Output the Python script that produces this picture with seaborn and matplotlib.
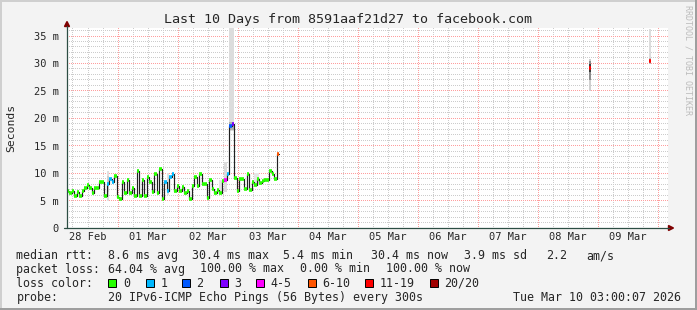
import numpy as np
import pandas as pd
import matplotlib
matplotlib.use("Agg")
import matplotlib.pyplot as plt
import seaborn as sns
from matplotlib.patches import Rectangle, Polygon
from matplotlib.lines import Line2D

# ---------------- data ----------------
start_day = -0.855          # days relative to 01 Mar 00:00
step_day = 1 / 24           # one hour per consolidated step
median_ms = [6.8, 6.3, 6.8, 5.9, 6.5, 5.9, 6.8, 7.3, 7.9, 7.3,
             6.3, 7.3, 7.3, 8.3, 8.3, 5.8, 8.0, 8.9, 8.3, 9.4,
             5.7, 5.2, 8.3, 6.3, 8.8, 6.3, 7.3, 5.9, 10.3, 5.9,
             8.8, 5.9, 9.3, 8.3, 6.6, 9.8, 6.3, 10.7, 5.2, 8.3,
             6.8, 9.3, 9.8, 6.8, 7.6, 6.8, 7.4, 6.3, 6.8, 5.2,
             7.6, 9.3, 7.6, 9.8, 8.0, 8.0, 5.4, 8.8, 7.1, 6.3,
             7.0, 6.3, 8.5, 8.8, 9.8, 18.6, 18.9, 9.1, 6.8, 8.9,
             8.9, 7.1, 9.8, 7.0, 8.3, 7.9, 8.9, 8.2, 8.5, 8.7,
             8.7, 10.3, 9.8, 8.9, 13.4]
loss_level = [0, 0, 0, 0, 0, 0, 0, 0, 0, 0,
              0, 0, 0, 0, 0, 0, 1, 1, 1, 0,
              0, 0, 0, 0, 0, 0, 0, 0, 0, 0,
              0, 0, 0, 0, 0, 0, 0, 0, 0, 1,
              1, 1, 1, 0, 0, 0, 0, 0, 0, 0,
              0, 0, 0, 0, 0, 0, 0, 0, 0, 0,
              0, 0, 0, 4, 1, 2, 3, 0, 0, 0,
              0, 0, 0, 0, 0, 0, 0, 0, 0, 0,
              0, 0, 0, 0, 5]

# smoke segments (index ranges into the series)
smoke_from = [16, 16, 40, 61, 63, 65, 65, 75]
smoke_to = [17, 17, 41, 62, 64, 67, 67, 77]
smoke_lo = [5.0, 6.5, 6.0, 6.6, 6.6, 17.6, 17.9, 7.8]
smoke_hi = [10.4, 9.4, 10.0, 8.8, 12.1, 36.5, 19.3, 10.0]
smoke_tone = ['#e0e0e0', '#cdcdcd', '#e0e0e0', '#e4e4e4', '#dcdcdc', '#dcdcdc', '#b0b0b0', '#e6e6e6']

# two isolated late samples
late_day = [7.85, 8.85]
late_ms = [29.2, 30.4]
late_loss = [6, 6]
late_smoke_day = [7.85, 7.85, 7.85, 8.85, 8.85]
late_smoke_lo = [25.0, 27.0, 28.4, 29.9, 29.9]
late_smoke_hi = [30.8, 30.4, 29.9, 36.3, 31.0]
late_smoke_tone = ['#cfcfcf', '#8c8c8c', '#3c3c3c', '#dcdcdc', '#bdbdbd']

loss_labels = ['0', '1', '2', '3', '4-5', '6-10', '11-19', '20/20']
loss_colors = ['#26ff00', '#00b8ff', '#0059ff', '#7e00ff', '#ff00ff', '#ff5500', '#ff0000', '#a10000']

day_labels = ['28 Feb', '01 Mar', '02 Mar', '03 Mar', '04 Mar', '05 Mar',
              '06 Mar', '07 Mar', '08 Mar', '09 Mar']
y_ticks = [0, 5, 10, 15, 20, 25, 30, 35]
y_labels = ['0', '5 m', '10 m', '15 m', '20 m', '25 m', '30 m', '35 m']

rtt_stats = ['8.6 ms avg', '30.4 ms max', '5.4 ms min', '30.4 ms now', '3.9 ms sd', '2.2', 'am/s']
loss_stats = ['64.04 % avg', '100.00 % max', '0.00 % min', '100.00 % now']
probe_text = '20 IPv6-ICMP Echo Pings (56 Bytes) every 300s'
stamp_text = 'Tue Mar 10 03:00:07 2026'
title_text = 'Last 10 Days from 8591aaf21d27 to facebook.com'

# ---------------- figure ----------------
sns.set_style('white')
plt.rcParams['font.family'] = ['DejaVu Sans Mono']
W, H = 697, 310
BG = '#f3f3f3'
fig = plt.figure(figsize=(W / 100, H / 100), dpi=100, facecolor=BG)

def fx(px):
    return px / W

def fy(py):
    return 1 - py / H

PX_L, PX_R, PX_T, PX_B = 67, 668, 28, 228
ax = fig.add_axes([fx(PX_L), fy(PX_B), (PX_R - PX_L) / W, (PX_B - PX_T) / H])
ax.set_facecolor('none')
x0 = (PX_L - 118) / 60
x1 = (PX_R - 118) / 60
ymax = 35 * (PX_B - PX_T) / (PX_B - 36)
for s in ax.spines.values():
    s.set_visible(False)

# canvas + grid: pixel-exact dotted raster like rrdtool (1px on / 1px off)
gh, gw = PX_B - PX_T, PX_R - PX_L
grid = np.ones((gh, gw, 3))
minor_c = (0.80, 0.80, 0.80)
major_c = (1.0, 0.62, 0.62)

def grow(v):
    return int(np.floor((ymax - v) / ymax * gh))

def gcol(d):
    return int(np.floor((d - x0) / (x1 - x0) * gw))

for v in range(1, 37):
    r = grow(v)
    if 0 <= r < gh and v % 5:
        grid[r, 0::2] = minor_c
for d in np.arange(-0.75, 9.2, 0.25):
    c = gcol(d)
    if 0 <= c < gw and abs(d - round(d)) > 1e-6:
        grid[0::2, c] = minor_c
for v in range(5, 37, 5):
    r = grow(v)
    if 0 <= r < gh:
        grid[r, 0::2] = major_c
for d in range(0, 10):
    c = gcol(d)
    if 0 <= c < gw:
        grid[0::2, c] = major_c
fig.figimage(grid, xo=PX_L, yo=H - PX_B, origin='upper', zorder=-1)

# smoke
days = np.array([start_day + i * step_day for i in range(len(median_ms))])
for a, b, lo, hi, c in zip(smoke_from, smoke_to, smoke_lo, smoke_hi, smoke_tone):
    ax.bar(days[a], hi - lo, bottom=lo, width=(b - a) * step_day, align='edge',
           color=c, linewidth=0, zorder=1)
for d, lo, hi, c in zip(late_smoke_day, late_smoke_lo, late_smoke_hi, late_smoke_tone):
    ax.bar(d, hi - lo, bottom=lo, width=step_day * 0.85, align='edge', color=c,
           linewidth=0, zorder=1)

# median line (black step line) via seaborn
df = pd.DataFrame({'day': np.append(days, days[-1] + step_day),
                   'ms': np.append(median_ms, median_ms[-1])})
sns.lineplot(data=df, x='day', y='ms', drawstyle='steps-post', color='#202020',
             lw=0.85, estimator=None, ax=ax, zorder=3)

# loss-coloured segments
for d, v, lv in zip(days, median_ms, loss_level):
    ax.hlines(v, d + 0.1 * step_day, d + 0.95 * step_day, color=loss_colors[lv],
              lw=2.6, zorder=4)
for d, v, lv in zip(late_day, late_ms, late_loss):
    ax.hlines(v, d, d + 0.85 * step_day, color=loss_colors[lv], lw=2.6, zorder=4)

ax.set_xlim(x0, x1)
ax.set_ylim(0, ymax)

# ticks/labels
ax.set_xticks([k - 1 + 0.5 for k in range(len(day_labels))])
ax.set_xticklabels(day_labels, fontsize=7.5)
ax.set_yticks(y_ticks)
ax.set_yticklabels(y_labels, fontsize=7.5)
ax.tick_params(axis='x', length=0, pad=3.0)
ax.tick_params(axis='y', length=2.2, width=0.72, color='#2c4d43', pad=3.6, direction='out')
ax.set_xlabel('')
ax.set_ylabel('')

# axes lines and arrows (pixel coordinates)
AX_C = '#2c4d43'
ARR = '#7f0000'
fig.add_artist(Line2D([fx(67), fx(67)], [fy(228), fy(26)], color=AX_C, lw=0.9))
fig.add_artist(Line2D([fx(64), fx(669)], [fy(228), fy(228)], color=AX_C, lw=0.9))
fig.add_artist(Polygon([(fx(64.5), fy(26.5)), (fx(69.5), fy(26.5)), (fx(67), fy(21.5))],
                       closed=True, color=ARR, transform=fig.transFigure))
fig.add_artist(Polygon([(fx(668.5), fy(225.5)), (fx(668.5), fy(230.5)), (fx(673.5), fy(228))],
                       closed=True, color=ARR, transform=fig.transFigure))

# frame shading
fig.add_artist(Rectangle((0, fy(2)), 1, 2 / H, color='#cfcfcf', transform=fig.transFigure, lw=0))
fig.add_artist(Rectangle((0, 0), 2 / W, 1, color='#cfcfcf', transform=fig.transFigure, lw=0))
fig.add_artist(Rectangle((0, 0), 1, 2 / H, color='#9e9e9e', transform=fig.transFigure, lw=0))
fig.add_artist(Rectangle((fx(695), 0), 2 / W, 1, color='#9e9e9e', transform=fig.transFigure, lw=0))

# title and side texts
fig.text(fx(348.5), fy(19), title_text, ha='center', va='center', fontsize=9.6)
fig.text(fx(11), fy(128), 'Seconds', rotation=90, ha='center', va='center', fontsize=8.2)
fig.text(fx(688), fy(5), 'RRDTOOL / TOBI OETIKER', rotation=270, ha='center', va='top',
         fontsize=6.0, color='#bcbcbc')

# legend block
LF = 8.4
rows = [259.2, 272.5, 286.9, 300.9]
fig.text(fx(16.5), fy(rows[0]), 'median rtt:', fontsize=LF, va='baseline')
for x, t in zip([107.5, 192, 283, 371, 464, 546, 586], rtt_stats):
    fig.text(fx(x), fy(rows[0]), t, fontsize=LF, va='baseline')
fig.text(fx(16.5), fy(rows[1]), 'packet loss:', fontsize=LF, va='baseline')
for x, t in zip([107.5, 200, 300, 386], loss_stats):
    fig.text(fx(x), fy(rows[1]), t, fontsize=LF, va='baseline')
fig.text(fx(16.5), fy(rows[2]), 'loss color:', fontsize=LF, va='baseline')
box_x = [108.4, 145.8, 182, 219.6, 256.4, 307.6, 365.3, 430]
for bx, lab, col in zip(box_x, loss_labels, loss_colors):
    fig.add_artist(Rectangle((fx(bx), fy(286.5)), 8 / W, 8 / H, facecolor=col,
                             edgecolor='black', lw=0.7, transform=fig.transFigure))
    fig.text(fx(bx + 14.5), fy(rows[2]), lab, fontsize=LF, va='baseline')
fig.text(fx(16.5), fy(rows[3]), 'probe:', fontsize=LF, va='baseline')
fig.text(fx(107.5), fy(rows[3]), probe_text, fontsize=LF, va='baseline')
fig.text(fx(513), fy(rows[3]), stamp_text, fontsize=LF, va='baseline')

fig.savefig('out.png', dpi=100, facecolor=BG)
